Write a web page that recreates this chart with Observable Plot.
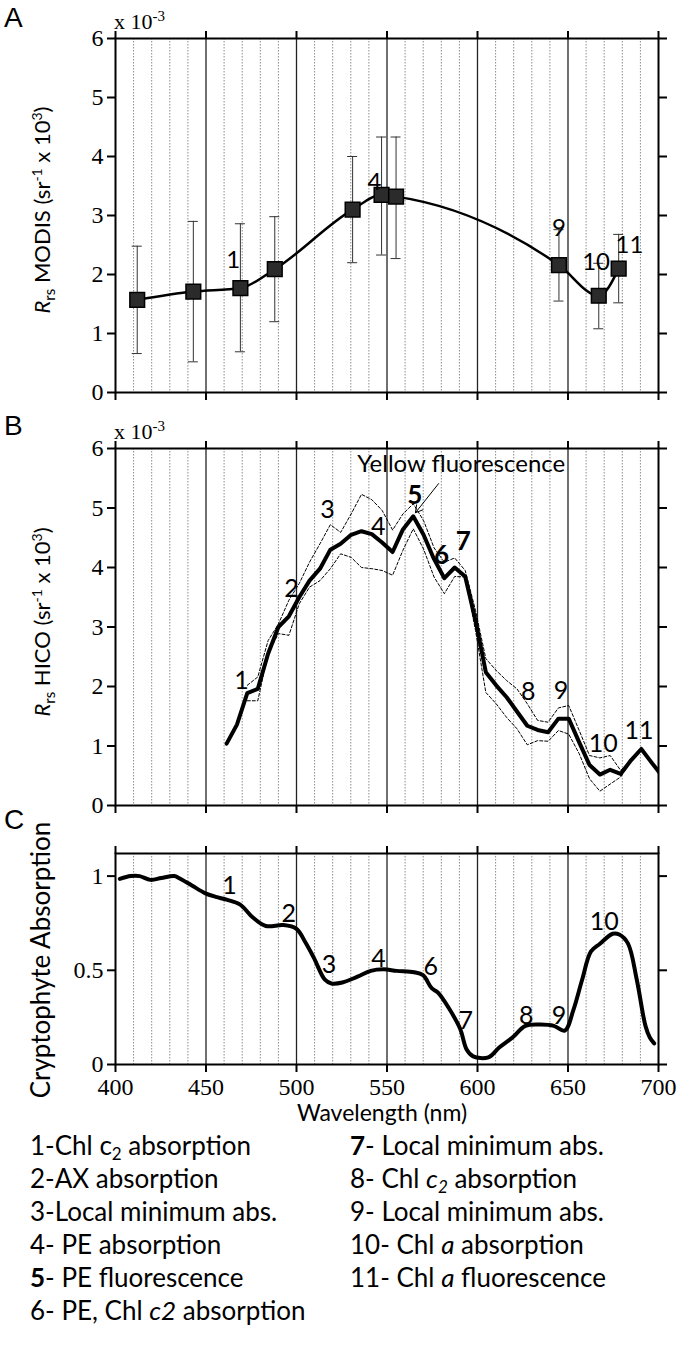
<!DOCTYPE html>
<html><head><meta charset="utf-8">
<script src="https://cdn.jsdelivr.net/npm/d3@7"></script>
<script src="https://cdn.jsdelivr.net/npm/@observablehq/plot@0.6"></script>
<style>
body{margin:0;background:#fff;}
#root{position:relative;width:677px;height:1352px;overflow:hidden;background:#fff;}
#root svg{position:absolute;left:0;display:block;}
.t{position:absolute;white-space:nowrap;line-height:1;color:#000;}
.let{font-family:"Liberation Sans",Arial,sans-serif;font-size:28px;}
.exp{font-family:"Liberation Serif",serif;font-size:22px;}
.exp sup{font-size:15px;vertical-align:0.55em;}
.ylab{font-family:Lato,sans-serif;font-size:22px;transform:translate(-50%,-50%) rotate(-90deg);}
.ylab sup{font-size:14px;vertical-align:0.6em;line-height:0;}
.ylab sub{font-size:15px;vertical-align:-0.3em;line-height:0;}
.ylab.big{font-size:26px;}
.xlab{font-family:Lato,sans-serif;font-size:23px;transform:translate(-50%,-50%);}
.leg{font-family:Lato,sans-serif;font-size:26px;height:27px;line-height:27px;transform:translateY(-50%);}
.leg .s{font-size:17px;position:relative;top:5px;line-height:0;}
</style></head>
<body><div id="root"></div>
<script>
// ---------- data ----------
const xTicks = [400, 450, 500, 550, 600, 650, 700];
const majorGrid = [450, 500, 550, 600, 650];
const minorGrid = [410,420,430,440,460,470,480,490,510,520,530,540,560,570,580,590,610,620,630,640,660,670,680,690];

// Panel A: MODIS
const modisWl = [412, 443, 469, 488, 531, 547, 555, 645, 667, 678];
const modisRrs = [1.57, 1.71, 1.77, 2.09, 3.10, 3.35, 3.32, 2.16, 1.64, 2.10];
const modisErrHi = [2.48, 2.90, 2.86, 2.98, 4.00, 4.33, 4.33, 2.76, 2.19, 2.68];
const modisErrLo = [0.66, 0.52, 0.69, 1.20, 2.20, 2.33, 2.27, 1.55, 1.08, 1.52];
const labelsA = ["1", "4", "9", "10", "11"];
const labelsAx = [465, 543, 645, 665.5, 684];
const labelsAy = [2.24, 3.56, 2.78, 2.2, 2.5];

// Panel B: HICO
const hicoWl = [461.4,467.1,472.8,478.6,484.3,490.0,495.8,501.5,507.2,513.0,518.7,524.4,530.2,535.9,541.6,547.3,553.1,558.8,564.5,570.2,576.0,581.7,587.4,593.2,598.9,604.6,610.3,616.1,621.8,627.5,633.2,639.0,644.7,650.4,656.2,661.9,667.6,673.3,679.1,684.8,690.5,696.2,701.9];
const hicoMean = [1.04,1.36,1.89,1.96,2.55,3.00,3.18,3.50,3.78,3.98,4.30,4.40,4.55,4.61,4.56,4.42,4.26,4.64,4.86,4.55,4.14,3.82,4.00,3.85,3.11,2.24,2.02,1.82,1.58,1.34,1.27,1.23,1.46,1.46,1.06,0.68,0.52,0.60,0.53,0.76,0.95,0.72,0.50];
const hicoUpper = [null,null,2.02,2.16,2.77,3.05,3.45,3.73,4.09,4.40,4.72,4.59,4.90,5.23,5.14,4.96,4.63,4.90,5.07,4.79,4.33,4.09,4.16,3.95,3.28,2.47,2.27,2.10,1.96,1.71,1.43,1.40,1.64,1.68,1.26,0.84,0.80,0.84,0.59,0.77,null,null,null];
const hicoLower = [null,null,1.76,1.76,2.55,2.89,2.86,3.39,3.67,3.78,3.98,4.23,4.17,4.00,3.98,3.95,3.87,4.29,4.65,4.31,3.84,3.56,3.85,3.84,2.94,1.90,1.71,1.48,1.29,1.02,1.09,1.08,1.26,1.20,0.87,0.45,0.24,0.36,0.48,0.75,null,null,null];
const labelsB = ["1","2","3","4","5","6","7","8","9","10","11"];
const labelsBx = [469.6,497.2,517.1,545.1,565.4,580.2,592.2,628.1,646.1,669.5,689.2];
const labelsBy = [2.1,3.64,4.96,4.68,5.21,4.2,4.43,1.90,1.93,1.04,1.26];
const labelsBbold = [false,false,false,false,true,true,true,false,false,false,false];
const annotText = ["Yellow fluorescence"];
const annotX = [591];
const annotY = [5.73];
const arrowFrom = [578.5, 5.41];
const arrowTo = [565.7, 4.92];

// Panel C: Cryptophyte absorption
const absWl = [402.4,408.4,413.3,419.3,425.3,432.5,435,442.2,449.4,455.4,461.4,468.7,475.9,483.1,492.8,500,504.8,509.6,515.7,519.3,525.3,533.7,541,548.2,555.4,565,569.9,574.7,578.3,584.3,590.4,594,597.6,606,612,619.3,626.5,635,642.2,648.2,653,657.8,662.7,667.5,674.7,678.3,683.1,688,692.8,695.2,697.6];
const absVal = [0.985,1.0,1.0,0.98,0.99,1.0,0.99,0.95,0.91,0.89,0.875,0.85,0.78,0.735,0.74,0.72,0.65,0.566,0.45,0.43,0.435,0.466,0.497,0.505,0.497,0.49,0.474,0.405,0.38,0.297,0.19,0.08,0.043,0.038,0.09,0.143,0.205,0.212,0.205,0.18,0.29,0.45,0.60,0.64,0.694,0.69,0.643,0.45,0.205,0.143,0.112];
const labelsC = ["1","2","3","4","6","7","8","9","10"];
const labelsCx = [463,495.7,518,545.3,574.2,593.5,627,645,670];
const labelsCy = [0.95,0.80,0.53,0.56,0.52,0.23,0.26,0.26,0.755];

const legendLeft = ["1-Chl c<span class=\"s\">2</span> absorption","2-AX absorption","3-Local minimum abs.","4- PE absorption","<b>5</b>- PE fluorescence","6- PE, Chl <i>c2</i> absorption"];
const legendRight = ["<b>7</b>- Local minimum abs.","8- Chl <i>c<span class=\"s\">2</span></i> absorption","9- Local minimum abs.","10- Chl <i>a</i> absorption","11- Chl <i>a</i> fluorescence"];

// ---------- build ----------
const modis = modisWl.map((wl, i) => ({wl, v: modisRrs[i], hi: modisErrHi[i], lo: modisErrLo[i]}));
const hico = hicoWl.map((wl, i) => ({wl, m: hicoMean[i], up: hicoUpper[i], lo: hicoLower[i]}));
const absData = absWl.map((wl, i) => ({wl, v: absVal[i]}));
const labA = labelsA.map((t, i) => ({t, x: labelsAx[i], y: labelsAy[i]}));
const labB = labelsB.map((t, i) => ({t, x: labelsBx[i], y: labelsBy[i], b: labelsBbold[i]}));
const labC = labelsC.map((t, i) => ({t, x: labelsCx[i], y: labelsCy[i]}));
const annot = annotText.map((t, i) => ({t, x: annotX[i], y: annotY[i]}));
const arrows = [{x1: arrowFrom[0], y1: arrowFrom[1], x2: arrowTo[0], y2: arrowTo[1]}];

const LBL = "Lato, sans-serif";

function panel({yDomain, yTicks, yFmt, marks, height, marginTop, marginBottom, xLabels}) {
  return Plot.plot({
    width: 677, height, marginLeft: 115, marginRight: 19, marginTop, marginBottom,
    x: {domain: [400, 700]},
    y: {domain: yDomain},
    style: {fontFamily: "'Liberation Serif', serif", fontSize: "24px", color: "#000", background: "transparent", overflow: "visible"},
    marks: [
      Plot.ruleX(minorGrid, {stroke: "#8c8c8c", strokeWidth: 1, strokeDasharray: "1.5,1.5"}),
      Plot.ruleX(majorGrid, {stroke: "#222", strokeWidth: 1.3}),
      ...marks,
      Plot.frame({stroke: "#000", strokeWidth: 2}),
      Plot.axisY({anchor: "left", ticks: yTicks, tickSize: 8, tickPadding: 4, tickFormat: yFmt, strokeWidth: 2, label: null, fontSize: 24}),
      Plot.axisY({anchor: "right", ticks: yTicks, tickSize: 8, tickFormat: () => "", strokeWidth: 2, label: null}),
      Plot.axisX({anchor: "bottom", ticks: xTicks, tickSize: 8, tickPadding: 5, tickFormat: xLabels ? (d => String(d)) : (() => ""), strokeWidth: 2, label: null, fontSize: 24}),
      Plot.axisX({anchor: "top", ticks: xTicks, tickSize: 8, tickFormat: () => "", strokeWidth: 2, label: null})
    ]
  });
}

const root = document.getElementById("root");

const svgA = panel({
  yDomain: [0, 6], yTicks: [0,1,2,3,4,5,6], yFmt: d => String(d),
  height: 420, marginTop: 38, marginBottom: 28, xLabels: false,
  marks: [
    Plot.ruleX(modis, {x: "wl", y1: "lo", y2: "hi", stroke: "#333", strokeWidth: 1}),
    Plot.ruleY(modis, {y: "hi", x1: "wl", x2: "wl", insetLeft: -5, insetRight: -5, stroke: "#333", strokeWidth: 1}),
    Plot.ruleY(modis, {y: "lo", x1: "wl", x2: "wl", insetLeft: -5, insetRight: -5, stroke: "#333", strokeWidth: 1}),
    Plot.line(modis, {x: "wl", y: "v", curve: "monotone-x", stroke: "#000", strokeWidth: 2.5}),
    Plot.dot(modis, {x: "wl", y: "v", symbol: "square", r: 8.3, fill: "#2b2b2b", stroke: "#000", strokeWidth: 1.5}),
    Plot.text(labA, {x: "x", y: "y", text: "t", fontFamily: LBL, fontSize: 24, fill: "#000"})
  ]
});
svgA.style.top = "0px";
root.appendChild(svgA);

const svgB = panel({
  yDomain: [0, 6], yTicks: [0,1,2,3,4,5,6], yFmt: d => String(d),
  height: 405, marginTop: 28, marginBottom: 20, xLabels: false,
  marks: [
    Plot.line(hico, {x: "wl", y: "up", stroke: "#000", strokeWidth: 1, strokeDasharray: "3,2"}),
    Plot.line(hico, {x: "wl", y: "lo", stroke: "#000", strokeWidth: 1, strokeDasharray: "3,2"}),
    Plot.line(hico, {x: "wl", y: "m", stroke: "#000", strokeWidth: 4, clip: true}),
    Plot.text(labB.filter(d => !d.b), {x: "x", y: "y", text: "t", fontFamily: LBL, fontSize: 25, fill: "#000"}),
    Plot.text(labB.filter(d => d.b), {x: "x", y: "y", text: "t", fontFamily: LBL, fontSize: 26, fontWeight: "bold", fill: "#000"}),
    Plot.text(annot, {x: "x", y: "y", text: "t", fontFamily: LBL, fontSize: 24, fill: "#000"}),
    Plot.arrow(arrows, {x1: "x1", y1: "y1", x2: "x2", y2: "y2", stroke: "#000", strokeWidth: 1, headLength: 12})
  ]
});
svgB.style.top = "420px";
root.appendChild(svgB);

const svgC = panel({
  yDomain: [0, 1.12], yTicks: [0, 0.5, 1], yFmt: d => String(d),
  height: 299, marginTop: 28, marginBottom: 60, xLabels: true,
  marks: [
    Plot.line(absData, {x: "wl", y: "v", curve: "catmull-rom", stroke: "#000", strokeWidth: 4}),
    Plot.text(labC, {x: "x", y: "y", text: "t", fontFamily: LBL, fontSize: 25, fill: "#000"})
  ]
});
svgC.style.top = "825px";
root.appendChild(svgC);

function addText(cls, html, left, top) {
  const d = document.createElement("div");
  d.className = "t " + cls;
  d.innerHTML = html;
  d.style.left = left + "px";
  d.style.top = top + "px";
  root.appendChild(d);
  return d;
}
addText("let", "A", 4, 4);
addText("let", "B", 4, 412);
addText("let", "C", 4, 806);
addText("exp", "x 10<sup>-3</sup>", 114, 9);
addText("exp", "x 10<sup>-3</sup>", 114, 419);
addText("ylab", "<i>R</i><sub>rs</sub> MODIS (sr<sup>-1</sup> x 10<sup>3</sup>)", 42, 210);
addText("ylab", "<i>R</i><sub>rs</sub> HICO (sr<sup>-1</sup> x 10<sup>3</sup>)", 42, 622);
addText("ylab big", "Cryptophyte Absorption", 40, 960);
addText("xlab", "Wavelength (nm)", 382, 1112);
legendLeft.forEach((s, i) => addText("leg", s, 30, 1145 + i * 33));
legendRight.forEach((s, i) => addText("leg", s, 350, 1145 + i * 33));
</script>
</body></html>
